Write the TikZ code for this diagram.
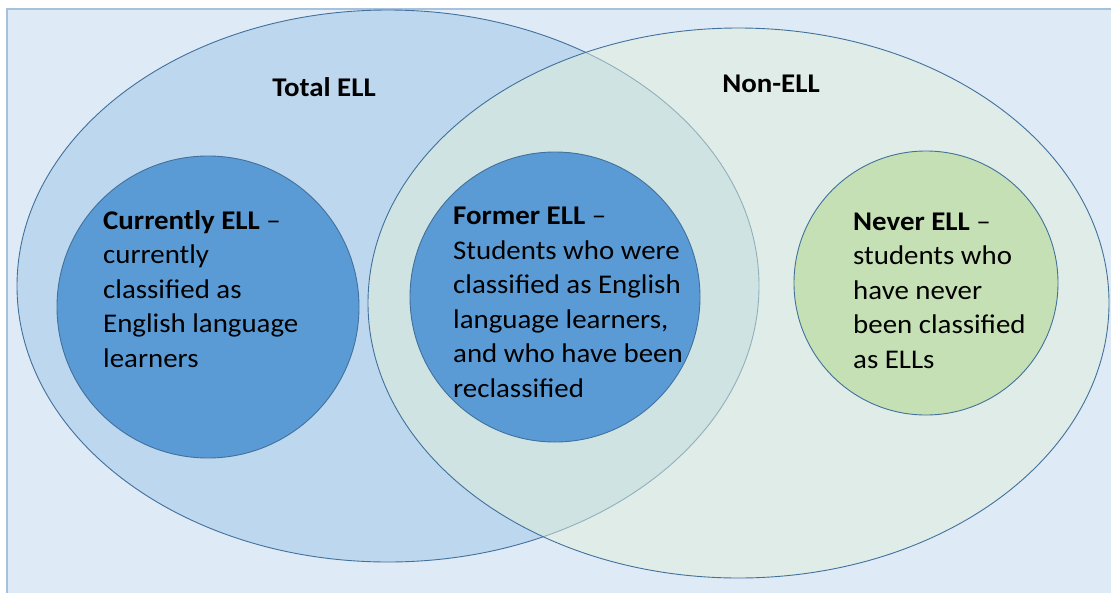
\documentclass[tikz,border=0pt]{standalone}
\usepackage{fontspec}
\setmainfont{Carlito}[FakeStretch=1.07]
\definecolor{framefill}{HTML}{DEEAF6}
\definecolor{framedraw}{HTML}{A7C0DC}
\definecolor{totalfill}{HTML}{BDD7EE}
\definecolor{nonfill}{HTML}{E2EFDA}
\definecolor{edgeblue}{HTML}{41719C}
\definecolor{ellfill}{HTML}{5B9BD5}
\definecolor{neverfill}{HTML}{C5E0B4}
\tikzset{
  setline/.style={draw=edgeblue, line width=0.9pt},
  label/.style={font=\fontsize{27}{34.5}\selectfont\bfseries, inner sep=0pt, anchor=base},
  desc/.style={font=\fontsize{27}{34.5}\selectfont, inner sep=0pt, anchor=base west, align=left}
}
\begin{document}
\begin{tikzpicture}[x=1pt,y=-1pt]
\useasboundingbox (0,0) rectangle (1111,592);
% background frame
\draw[framedraw, fill=framefill, line width=1.5pt] (7,9) rectangle (1125,610);
% the two big sets
\draw[setline, fill=totalfill] (388,286) ellipse[x radius=371, y radius=276];
\draw[setline, fill=nonfill, fill opacity=0.5] (738.5,303) ellipse[x radius=370.5, y radius=275];
% inner circles
\draw[setline, fill=ellfill] (208,307) circle[radius=151];
\draw[setline, fill=ellfill] (555,297) circle[radius=145];
\draw[setline, fill=neverfill] (926,283) circle[radius=132];
% labels (multi-line nodes sit on the baseline of their last line)
\node[label] (total) at (324,96) {Total ELL};
\node[label] (nonell) at (771,92) {Non-ELL};
\node[desc] (current) at (103,367) {\textbf{Currently ELL} --\\currently\\classified as\\English language\\learners};
\node[desc] (former) at (453,397) {\textbf{Former ELL} --\\Students who were\\classified as English\\language learners,\\and who have been\\reclassified};
\node[desc] (never) at (853,368) {\textbf{Never ELL} --\\students who\\have never\\been classified\\as ELLs};
\end{tikzpicture}
\end{document}
